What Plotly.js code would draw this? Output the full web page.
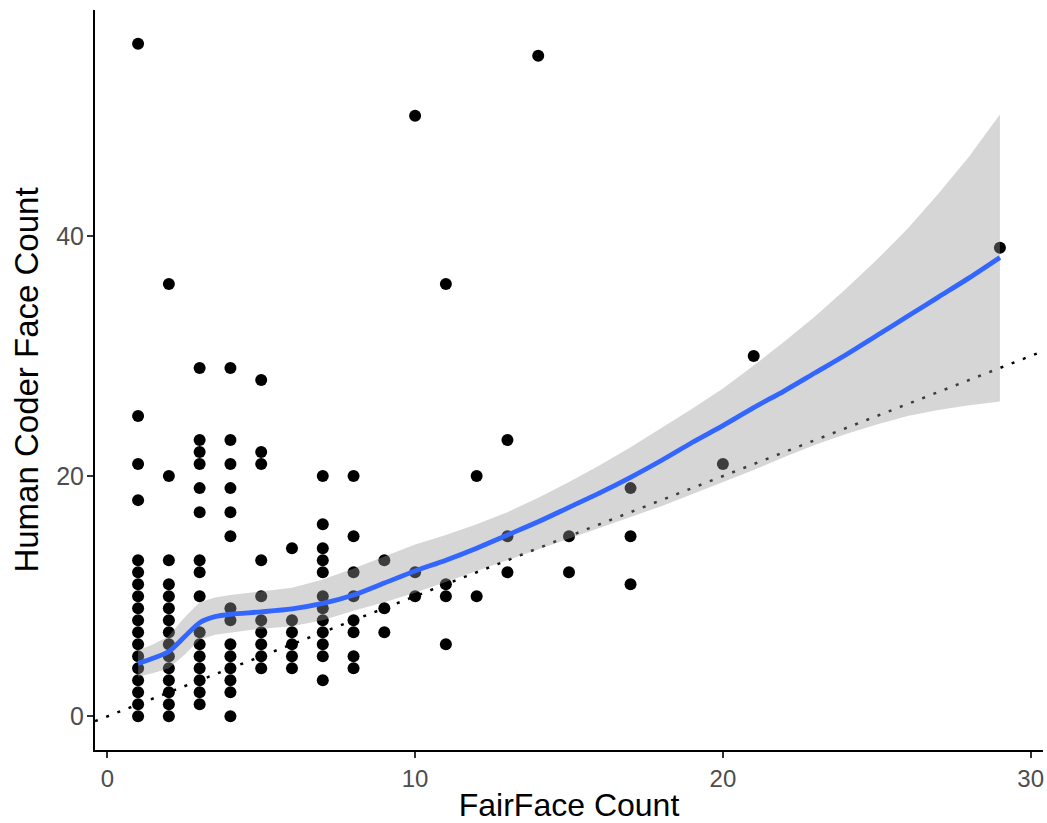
<!DOCTYPE html>
<html>
<head>
<meta charset="utf-8">
<script src="https://cdn.plot.ly/plotly-3.0.1.min.js"></script>
<style>html,body{margin:0;padding:0;background:#fff;}#chart{width:1047px;height:823px;}</style>
</head>
<body>
<div id="chart"></div>
<script>
// Observations: FairFace count (x) and human coder count (y)
const fairface = [
  1,1,1,1,1,1,1,1,1,1,1,1,1,1,1,1,1,1,
  2,2,2,2,2,2,2,2,2,2,2,2,2,2,2,
  3,3,3,3,3,3,3,3,3,3,3,3,3,3,3,3,
  4,4,4,4,4,4,4,4,4,4,4,4,4,4,
  5,5,5,5,5,5,5,5,5,5,
  6,6,6,6,6,6,
  7,7,7,7,7,7,7,7,7,7,7,7,
  8,8,8,8,8,8,8,8,
  9,9,9,
  10,10,10,
  11,11,11,11,
  12,12,
  13,13,13,
  14,
  15,15,
  17,17,17,
  20,
  21,
  29
];
const human = [
  0,1,2,3,4,5,6,7,8,9,10,11,12,13,18,21,25,56,
  0,1,2,3,4,5,6,7,8,9,10,11,13,20,36,
  1,2,3,4,5,6,7,10,12,13,17,19,21,22,23,29,
  0,2,3,4,5,6,8,9,15,17,19,21,23,29,
  4,5,6,7,8,10,13,21,22,28,
  4,5,6,7,8,14,
  3,5,6,7,8,9,10,12,13,14,16,20,
  4,5,7,8,10,12,15,20,
  7,9,13,
  10,12,50,
  6,10,11,36,
  10,20,
  12,15,23,
  55,
  12,15,
  11,15,19,
  21,
  30,
  39
];

// Smoothed fit (loess) and its confidence band
const smoothX = [1,1.5,2,2.5,3,3.5,4,5,6,7,8,9,10,11,12,13,14,15,16,17,18,19,20,21,22,23,24,25,26,27,28,29];
const smoothFit = [4.4,4.85,5.4,6.6,7.8,8.3,8.5,8.7,8.95,9.4,10.1,11.1,12.1,13.0,14.0,15.1,16.2,17.4,18.6,19.9,21.3,22.8,24.2,25.7,27.1,28.6,30.1,31.7,33.3,34.9,36.5,38.2];
const smoothUpper = [5.5,6.0,6.7,8.2,9.5,9.9,10.1,10.4,10.7,11.4,12.3,13.3,14.3,15.1,16.0,17.0,18.2,19.5,20.9,22.4,24.0,25.6,27.3,29.2,31.2,33.3,35.6,38.0,40.6,43.5,46.6,50.1];
const smoothLower = [3.3,3.6,4.0,5.1,6.4,6.8,7.0,7.3,7.5,8.0,8.8,9.5,10.3,11.2,12.1,13.0,13.9,14.8,15.7,16.6,17.5,18.5,19.5,20.5,21.6,22.6,23.5,24.3,25.0,25.5,25.9,26.2];

// identity reference line y = x
const refX = [-0.4, 30.4];
const refY = [-0.4, 30.4];

const xTicks = [0, 10, 20, 30];
const yTicks = [0, 20, 40];

const bandX = smoothX.concat(smoothX.slice().reverse());
const bandY = smoothUpper.concat(smoothLower.slice().reverse());

const traces = [
  {
    x: refX, y: refY, type: 'scatter', mode: 'lines',
    line: {color: '#000000', width: 2.5, dash: '3px,9px'},
    hoverinfo: 'skip', showlegend: false
  },
  {
    x: fairface, y: human, type: 'scatter', mode: 'markers',
    marker: {color: '#000000', size: 12, line: {width: 0}},
    showlegend: false
  },
  {
    x: bandX, y: bandY, type: 'scatter', mode: 'lines',
    fill: 'toself', fillcolor: 'rgba(153,153,153,0.4)',
    line: {width: 0, color: 'rgba(0,0,0,0)'},
    hoverinfo: 'skip', showlegend: false
  },
  {
    x: smoothX, y: smoothFit, type: 'scatter', mode: 'lines',
    line: {color: '#3366FF', width: 4.8, shape: 'spline', smoothing: 0.8},
    showlegend: false
  }
];

const FONT = 'Liberation Sans, Arial, sans-serif';

const layout = {
  width: 1047, height: 823,
  margin: {l: 95, r: 4, t: 10, b: 73},
  paper_bgcolor: '#ffffff', plot_bgcolor: '#ffffff',
  showlegend: false,
  font: {family: FONT, size: 24, color: '#4d4d4d'},
  xaxis: {
    showgrid: false, zeroline: false,
    showline: true, linecolor: '#000000', linewidth: 2,
    ticks: 'outside', ticklen: 6, tickwidth: 2, tickcolor: '#333333',
    tickfont: {family: FONT, size: 24, color: '#4d4d4d'},
    ticklabeloverflow: 'allow',
    automargin: false,
    range: [-0.4, 30.4],
    tickmode: 'array', tickvals: xTicks, ticktext: xTicks.map(String),
    title: {text: 'FairFace Count', standoff: 7,
      font: {family: FONT, size: 32, color: '#000000'}}
  },
  yaxis: {
    showgrid: false, zeroline: false,
    showline: true, linecolor: '#000000', linewidth: 2,
    ticks: 'outside', ticklen: 6, tickwidth: 2, tickcolor: '#333333',
    tickfont: {family: FONT, size: 25, color: '#4d4d4d'},
    ticklabeloverflow: 'allow',
    ticklabelstandoff: -2,
    automargin: false,
    range: [-2.8, 58.8],
    tickmode: 'array', tickvals: yTicks, ticktext: yTicks.map(String),
    title: {text: 'Human Coder Face Count', standoff: 8,
      font: {family: FONT, size: 33, color: '#000000'}}
  }
};

Plotly.newPlot('chart', traces, layout, {displayModeBar: false, staticPlot: true});
</script>
</body>
</html>
